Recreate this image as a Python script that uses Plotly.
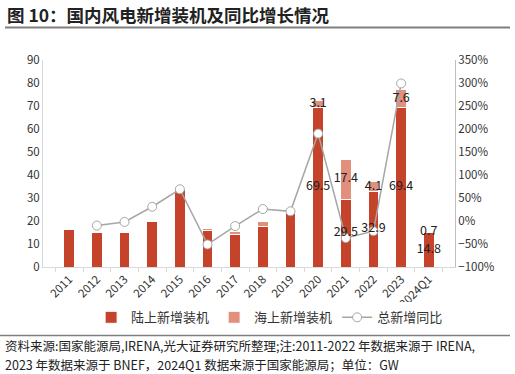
import plotly.graph_objects as go

categories = ["2011", "2012", "2013", "2014", "2015", "2016", "2017", "2018",
              "2019", "2020", "2021", "2022", "2023", "2024Q1"]
onshore = [16.3, 15.0, 15.0, 19.8, 33.8, 16.0, 14.1, 17.7, 23.2, 69.5, 29.5, 32.9, 69.4, 14.8]
offshore = [0.1, 0.1, 0.1, 0.2, 0.4, 0.7, 1.3, 2.2, 1.4, 3.1, 17.4, 4.1, 7.6, 0.7]
yoy = [None, -10, -2, 31, 69, -51, -11, 26, 21, 190, -37, -22, 299, None]
label_from = 9  # data labels shown from 2020 onward

ON_C = "#C5432A"
OFF_C = "#E28F7B"
LINE_C = "#A6A6A6"
FONT = "Noto Sans CJK SC"

fig = go.Figure()
fig.add_bar(x=categories, y=onshore, name="陆上新增装机", marker_color=ON_C,
            marker_line=dict(color="white", width=1), width=0.38)
fig.add_bar(x=categories, y=offshore, name="海上新增装机", marker_color=OFF_C,
            marker_line=dict(color="white", width=1), width=0.38)
fig.add_scatter(x=categories, y=yoy, name="总新增同比", yaxis="y2", mode="lines+markers",
                line=dict(color=LINE_C, width=1.5),
                marker=dict(size=9, color="white", line=dict(color=LINE_C, width=1)))

# data labels (on a hidden overlay axis with the same scale as the left axis, drawn on top)
lx = categories[label_from:]
fig.add_scatter(x=lx, y=[v / 2 for v in onshore[label_from:]], mode="text", yaxis="y3",
                text=[f"{v:.1f}" for v in onshore[label_from:]], showlegend=False,
                textfont=dict(family=FONT, size=12.5, color="#222"), hoverinfo="skip")
fig.add_scatter(x=lx, y=[a + b / 2 for a, b in zip(onshore[label_from:], offshore[label_from:])],
                mode="text", yaxis="y3", text=[f"{v:.1f}" for v in offshore[label_from:]],
                showlegend=False, textfont=dict(family=FONT, size=12.5, color="#222"),
                hoverinfo="skip")

H = 206.7
L = 412.0
def py(px):
    return (266.7 - px) / H
def pxx(px):
    return (px - 43) / L

fig.update_layout(
    width=515, height=374,
    margin=dict(l=43, r=60, t=60, b=107.3),
    paper_bgcolor="white", plot_bgcolor="white",
    barmode="stack", bargap=0.6,
    font=dict(family=FONT, size=11, color="#333"),
    xaxis=dict(type="category", tickangle=-45, showline=True, linecolor="#D9D9D9",
               ticks="outside", tickson="boundaries", ticklen=4, tickcolor="#D9D9D9",
               tickfont=dict(size=11.5, color="#333"), showgrid=False),
    yaxis=dict(range=[0, 90], dtick=10, showline=True, linecolor="#D9D9D9",
               showgrid=False, zeroline=False, tickfont=dict(size=11.5, color="#333")),
    yaxis2=dict(range=[-100, 350], dtick=50, overlaying="y", side="right",
                ticksuffix="%", showline=True, linecolor="#BFBFBF", showgrid=False,
                zeroline=False, tickfont=dict(size=11.5, color="#333")),
    yaxis3=dict(range=[0, 90], overlaying="y", visible=False),
    legend=dict(orientation="h", x=0.55, xanchor="center", y=py(317), yanchor="middle",
                font=dict(size=13, color="#333"), traceorder="normal", itemwidth=30),
    showlegend=True,
)

fig.add_annotation(text="<b>图 10：国内风电新增装机及同比增长情况</b>", xref="paper", yref="paper",
                   x=pxx(5), y=py(15), xanchor="left", yanchor="middle", showarrow=False,
                   font=dict(family=FONT, size=17.5, color="#222"))
fig.add_shape(type="line", xref="paper", yref="paper", x0=pxx(5), x1=pxx(510),
              y0=py(27.5), y1=py(27.5), line=dict(color="#7F7F7F", width=2))
fig.add_shape(type="line", xref="paper", yref="paper", x0=pxx(0), x1=pxx(510),
              y0=py(335), y1=py(335), line=dict(color="#7F7F7F", width=1.5))
fig.add_annotation(text="资料来源:国家能源局,IRENA,光大证券研究所整理;注:2011-2022 年数据来源于 IRENA,",
                   xref="paper", yref="paper", x=pxx(4), y=py(345), xanchor="left",
                   yanchor="middle", showarrow=False, borderpad=0,
                   font=dict(family=FONT, size=12.5, color="#222"))
fig.add_annotation(text="2023 年数据来源于 BNEF，2024Q1 数据来源于国家能源局；单位：GW",
                   xref="paper", yref="paper", x=pxx(4), y=py(364), xanchor="left",
                   yanchor="middle", showarrow=False, borderpad=0,
                   font=dict(family=FONT, size=12.5, color="#222"))

fig.write_html("out.html")
